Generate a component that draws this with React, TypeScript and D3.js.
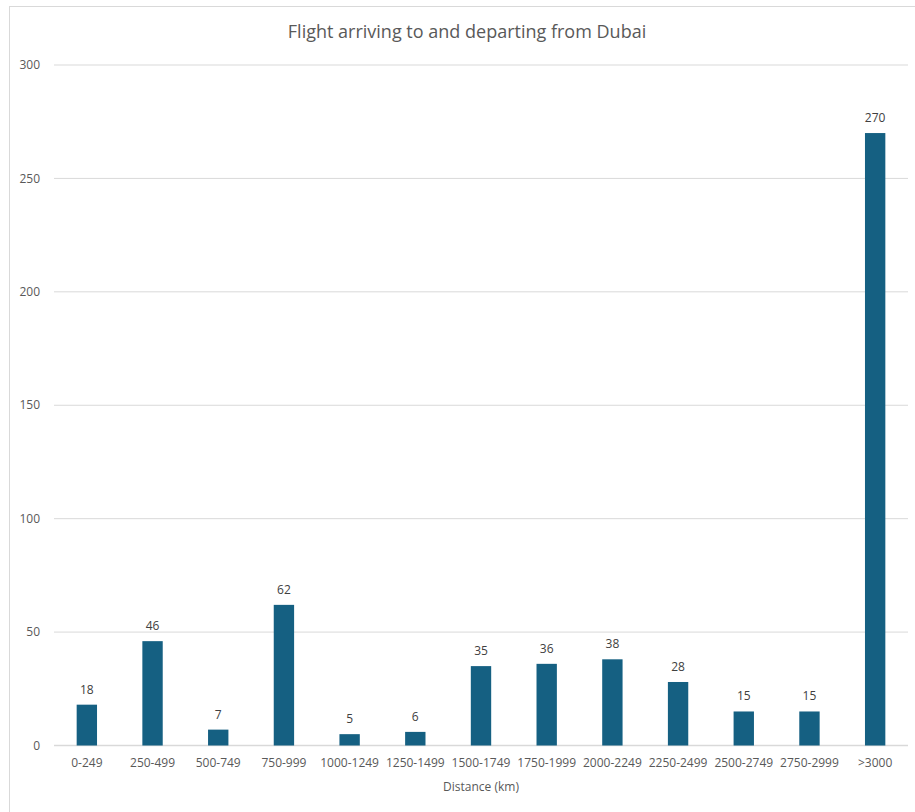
import React from "react";
import * as d3 from "d3";

const categories = [
  "0-249", "250-499", "500-749", "750-999", "1000-1249", "1250-1499",
  "1500-1749", "1750-1999", "2000-2249", "2250-2499", "2500-2749",
  "2750-2999", ">3000",
];
const flights = [18, 46, 7, 62, 5, 6, 35, 36, 38, 28, 15, 15, 270];
const yTicks = [0, 50, 100, 150, 200, 250, 300];

const W = 915;
const H = 812;
const left = 54;
const right = 908;
const top = 65;
const bottom = 745.5;
const FONT = "'Open Sans', 'Liberation Sans', sans-serif";
const TEXT = "#595959";

export default function App() {
  const x = d3.scaleBand<string>().domain(categories).range([left, right]).paddingInner(0.69).paddingOuter(0.345);
  const y = d3.scaleLinear().domain([0, 300]).range([bottom, top]);

  return (
    <svg width={W} height={H} style={{ position: "absolute", left: 0, top: 0 }} fontFamily={FONT}>
      <rect x={0} y={0} width={W} height={H} fill="#fff" />
      <rect x={9.5} y={6.5} width={W + 20} height={H + 20} fill="none" stroke="#d9d9d9" strokeWidth={1} />
      <text x={467} y={38} textAnchor="middle" fontSize={18} fill={TEXT}>
        Flight arriving to and departing from Dubai
      </text>
      {yTicks.map((t) => (
        <g key={t}>
          <line x1={left} x2={right} y1={y(t)} y2={y(t)} stroke="#d9d9d9" strokeWidth={t === 0 ? 1.3 : 1} />
          <text x={40} y={y(t)} dy="0.35em" textAnchor="end" fontSize={12} fill={TEXT}>{t}</text>
        </g>
      ))}
      {categories.map((c, i) => (
        <g key={c}>
          <rect x={x(c)} y={y(flights[i])} width={x.bandwidth()} height={y(0) - y(flights[i])} fill="#156082" />
          <text x={(x(c) as number) + x.bandwidth() / 2} y={y(flights[i]) - 11} textAnchor="middle" fontSize={12} fill="#404040">
            {flights[i]}
          </text>
          <text x={(x(c) as number) + x.bandwidth() / 2} y={767} textAnchor="middle" fontSize={12} fill={TEXT}>
            {c}
          </text>
        </g>
      ))}
      <text x={481} y={791} textAnchor="middle" fontSize={12} fill={TEXT}>Distance (km)</text>
    </svg>
  );
}
